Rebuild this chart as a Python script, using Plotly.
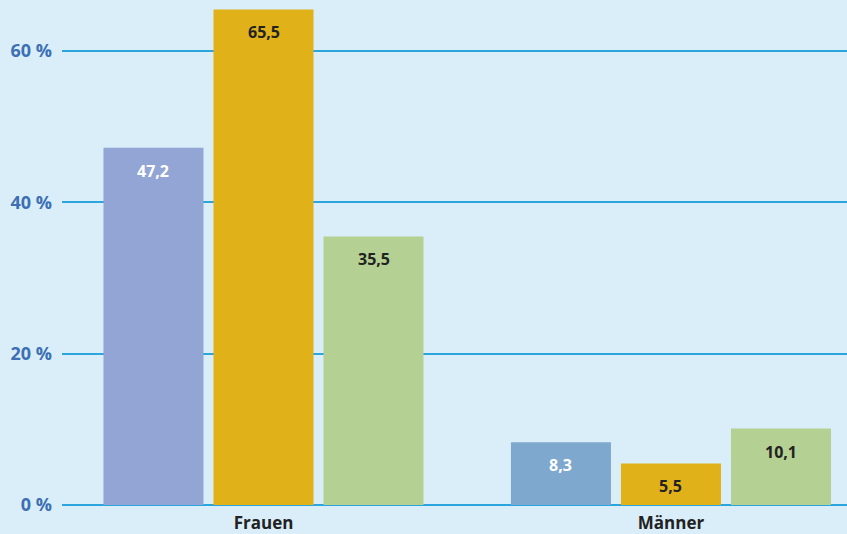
import plotly.graph_objects as go

categories = ["Frauen", "Männer"]
series1 = [47.2, 8.3]
series2 = [65.5, 5.5]
series3 = [35.5, 10.1]
series1_colors = ["#93a5d4", "#7fa8cf"]
series2_colors = ["#e0b119", "#e0b119"]
series3_colors = ["#b5d093", "#b5d093"]
label_colors = [["#ffffff", "#ffffff"], ["#222222", "#222222"], ["#222222", "#222222"]]
ytick_vals = [0, 20, 40, 60]
ytick_text = ["0 %", "20 %", "40 %", "60 %"]

FONT = "Open Sans"
bargap = 0.19
bargroupgap = 0.0909

fig = go.Figure()
all_series = [series1, series2, series3]
all_colors = [series1_colors, series2_colors, series3_colors]
for s, c in zip(all_series, all_colors):
    fig.add_trace(go.Bar(x=list(range(len(categories))), y=s, marker=dict(color=c, line=dict(width=0)),
                         showlegend=False, hoverinfo="skip"))

# value labels near the top of each bar
nser = len(all_series)
slot = (1 - bargap) / nser
for si, s in enumerate(all_series):
    for ci, v in enumerate(s):
        xc = ci - (1 - bargap) / 2 + slot * (si + 0.5)
        fig.add_annotation(x=xc, y=v, xref="x", yref="y", text=f"<b>{str(v).replace('.', ',')}</b>",
                           showarrow=False, yshift=-23, yanchor="middle",
                           font=dict(family=FONT, size=16, color=label_colors[si][ci]))

fig.update_layout(
    width=847, height=534,
    margin=dict(l=62, r=0, t=0, b=29, autoexpand=False),
    paper_bgcolor="#d9eef9", plot_bgcolor="#d9eef9",
    barmode="group", bargap=bargap, bargroupgap=bargroupgap,
    separators=",.",
    font=dict(family=FONT),
)
fig.update_xaxes(
    tickvals=list(range(len(categories))), ticktext=[f"<b>{c}</b>" for c in categories],
    range=[-0.4945, 1.432], showgrid=False, zeroline=False, showline=False, automargin=False,
    tickfont=dict(family=FONT, size=17, color="#222222"), ticklabelstandoff=6,
)
fig.update_yaxes(
    range=[0, 66.74], tickvals=ytick_vals, ticktext=[f"<b>{t}</b>" for t in ytick_text],
    showgrid=True, gridcolor="#2aa5dd", gridwidth=1.5, automargin=False,
    zeroline=True, zerolinecolor="#2aa5dd", zerolinewidth=1.5, showline=False,
    tickfont=dict(family=FONT, size=18, color="#3d6fb4"), ticklabelstandoff=9,
)

fig.write_html("out.html", config={"displayModeBar": False},
               post_script="document.body.style.margin='0';document.body.style.background='#d9eef9';")
